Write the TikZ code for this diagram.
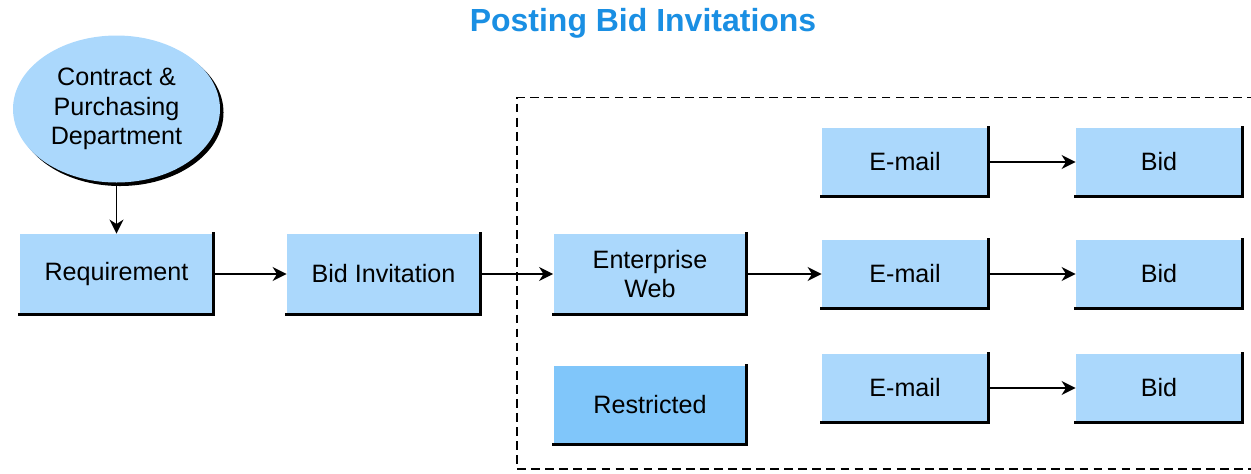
\documentclass[tikz,border=0pt]{standalone}
\usepackage{fontspec}
\setmainfont{Liberation Sans}
\usepackage{tikz}
\usetikzlibrary{positioning,arrows.meta,shapes.geometric,shadows}

\definecolor{boxblue}{RGB}{171,216,252}
\definecolor{deepblue}{RGB}{128,198,250}
\definecolor{titleblue}{RGB}{26,143,227}

\begin{document}
\begin{tikzpicture}[on grid, >={Stealth[length=8pt,width=8pt,inset=2.5pt]},
    blok/.style={fill=boxblue, minimum width=3.86cm, minimum height=1.6cm,
        align=center, font=\fontsize{14.3}{16.8}\selectfont},
    mailbox/.style={blok, minimum width=3.32cm, minimum height=1.36cm},
    rim/.style={line width=1.6pt, line cap=rect},
    link/.style={->, line width=0.85pt}]

    \useasboundingbox (0,0) rectangle (25.02,-9.46);

    \node[titleblue, font=\fontsize{18.2}{20}\selectfont\bfseries] (title) at (12.86,-0.46) {Posting Bid Invitations};

    \node[blok] (req) at (2.33,-5.48) {Requirement};
    \node[ellipse, fill=boxblue, minimum width=4.14cm, minimum height=2.94cm, align=center,
          font=\fontsize{14.3}{16.8}\selectfont,
          drop shadow={shadow xshift=2pt, shadow yshift=-2pt, opacity=1, fill=black}]
        (dept) [above=3.3cm of req] {Contract \&\\Purchasing\\Department};

    \node[blok] (inv) [right=5.34cm of req] {Bid Invitation};
    \node[blok] (web) [right=5.33cm of inv] {Enterprise\\Web};
    \node[blok, fill=deepblue, minimum height=1.56cm] (restr) [below=2.62cm of web] {Restricted};

    \node[mailbox] (mail2) [right=5.1cm of web] {E-mail};
    \node[mailbox] (mail1) [above=2.24cm of mail2] {E-mail};
    \node[mailbox] (mail3) [below=2.28cm of mail2] {E-mail};
    \node[mailbox] (bid1) [right=5.08cm of mail1] {Bid};
    \node[mailbox] (bid2) [right=5.08cm of mail2] {Bid};
    \node[mailbox] (bid3) [right=5.08cm of mail3] {Bid};

    % dark right and bottom edges
    \foreach \n in {req,inv,web,restr,mail1,mail2,mail3,bid1,bid2,bid3}
        \draw[rim] (\n.north east) -- (\n.south east) -- (\n.south west);

    % dashed frame
    \draw[line width=0.7pt, dash pattern=on 5pt off 3pt]
        (25.4,-1.95) -- (10.34,-1.95) -- (10.34,-9.38) -- (25.4,-9.38);

    \draw[link] (dept) -- (req);
    \draw[link] (req) -- (inv);
    \draw[link] (inv) -- (web);
    \draw[link] (web) -- (mail2);
    \foreach \i in {1,2,3}
        \draw[link] (mail\i) -- (bid\i);

\end{tikzpicture}
\end{document}
